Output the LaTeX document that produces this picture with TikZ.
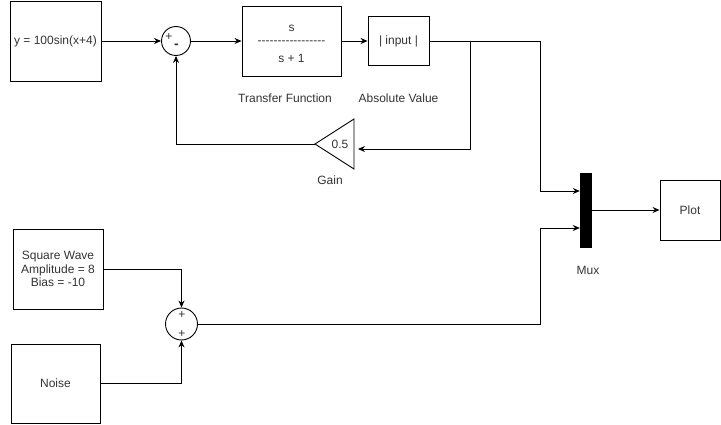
\documentclass[tikz,border=0pt]{standalone}
\usepackage{fontspec}
\setmainfont{Liberation Sans}
\usetikzlibrary{arrows.meta}
\newcommand\hy{\hbox{-}}
\begin{document}
\begin{tikzpicture}[x=1pt,y=-1pt,
  font=\fontsize{12}{13.5}\selectfont,
  every node/.style={text=black!80},
  blk/.style={draw=black,line width=0.9pt,rectangle,inner sep=0pt},
  sumc/.style={draw=black,line width=0.9pt,circle,inner sep=0pt},
  wire/.style={draw=black,line width=0.9pt},
  arr/.style={wire,-{Stealth[length=7pt,width=6pt]}},
  lbl/.style={inner sep=0pt}]
\useasboundingbox (0,0) rectangle (721,425);

% blocks
\node[blk,minimum width=91pt,minimum height=80pt] (src) at (55.5,41) {y = 100sin(x+4)};
\node[sumc,minimum size=29pt] (sum1) at (176,41) {};
\node[lbl,font=\fontsize{12}{12}\selectfont] at (169,37) {+};
\node[lbl,font=\fontsize{14}{14}\selectfont\bfseries] at (176.5,46) {-};
\node[blk,minimum width=99pt,minimum height=70pt] (tf) at (291.5,41) {};
\node[lbl] at (291.5,28) {s};
\node[lbl] at (291.5,43) {\hy\hy\hy\hy\hy\hy\hy\hy\hy\hy\hy\hy\hy\hy\hy\hy\hy};
\node[lbl] at (291.5,58) {s + 1};
\node[blk,minimum width=61pt,minimum height=49pt] (abs) at (398.5,41) {| input |};
\node[lbl] (tfl) at (285,98) {Transfer Function};
\node[lbl] (absl) at (398.5,98) {Absolute Value};

% gain triangle
\coordinate (gtip) at (315,144);
\coordinate (gtop) at (354,119);
\coordinate (gbot) at (354,169);
\draw[wire,line join=miter] (gtip) -- (gtop) -- (gbot) -- cycle;
\node[lbl] (gval) at (340,144) {0.5};
\node[lbl] (gl) at (330,180) {Gain};
\coordinate (gin) at (358,149);

% mux and plot
\node[fill=black,draw=black,minimum width=11pt,minimum height=74pt,inner sep=0pt] (mux) at (585.5,210) {};
\node[lbl] (muxl) at (588,270) {Mux};
\node[blk,minimum width=60pt,minimum height=60pt] (plot) at (690,210) {Plot};

% bottom
\node[blk,minimum width=90pt,minimum height=80pt,align=center] (sq) at (58,269) {Square Wave\\Amplitude = 8\\Bias = -10};
\node[blk,minimum width=89pt,minimum height=79pt] (noise) at (55.5,383.5) {Noise};
\node[sumc,minimum size=32pt] (sum2) at (181.5,324) {};
\node[lbl,font=\fontsize{12}{12}\selectfont] at (182,315) {+};
\node[lbl,font=\fontsize{12}{12}\selectfont] at (182,334) {+};

% connectors
\draw[arr] (src.east) -- (sum1.west);
\draw[arr] (sum1.east) -- (tf.west);
\draw[arr] (tf.east) -- (abs.west);
\coordinate (br) at (470,41);
\coordinate (mx) at (540,41);
\coordinate (mx2) at (540,228);
\draw[arr] (abs.east) -- (mx) -- (540,191) -- ([yshift=19pt]mux.west);
\draw[arr] (br) -- (470,149) -- (gin);
\draw[arr] (gtip) -| (sum1.south);
\draw[arr] (mux.east) -- (plot.west);
\draw[arr] (sq.east) -| (sum2.north);
\draw[arr] (noise.east) -| (sum2.south);
\draw[arr] (sum2.east) -| (mx2) -- ([yshift=-18pt]mux.west);
\end{tikzpicture}
\end{document}
